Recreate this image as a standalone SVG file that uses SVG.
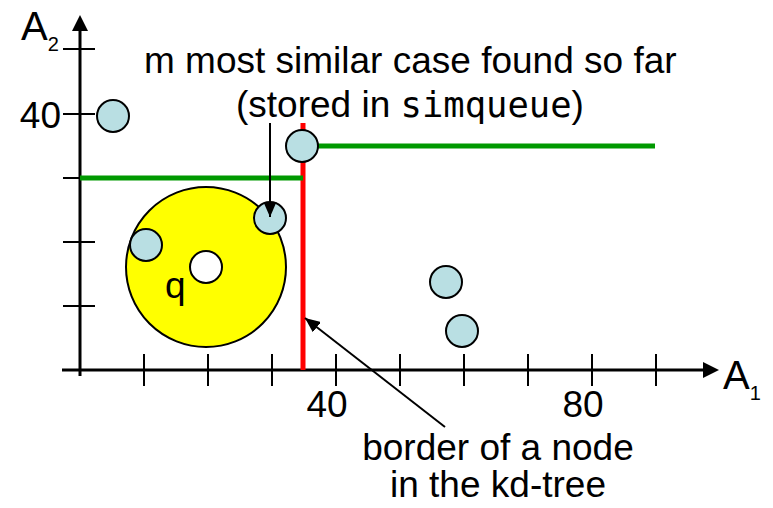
<svg xmlns="http://www.w3.org/2000/svg" width="773" height="508" viewBox="0 0 773 508">
<defs>
<marker id="ah" viewBox="0 0 15 13" refX="15" refY="6.5" markerWidth="15" markerHeight="13" markerUnits="userSpaceOnUse" orient="auto"><path d="M0,0 L15,6.5 L0,13 z" fill="#000"/></marker>
<style>
.t{font-family:"Liberation Sans",Arial,sans-serif;font-size:37px;fill:#000}
.m{font-family:"DejaVu Sans Mono","Liberation Mono",monospace;font-size:35.5px}
.ax{stroke:#000;stroke-width:3;fill:none}
.tk{stroke:#000;stroke-width:2}
.pt{fill:#b9dfe3;stroke:#000;stroke-width:2}
.cn{stroke:#000;stroke-width:2;fill:none}
</style>
</defs>
<rect width="773" height="508" fill="#fff"/>
<g id="axes">
<line class="ax" x1="80" y1="376" x2="80" y2="30"/>
<path d="M80,15 L72,31 L88,31 z" fill="#000"/>
<line class="ax" x1="62" y1="370" x2="705" y2="370"/>
<path d="M719,370 L703,362 L703,378 z" fill="#000"/>
<g class="tk">
<line x1="63" y1="49" x2="95" y2="49"/>
<line x1="63" y1="114" x2="95" y2="114"/>
<line x1="63" y1="178" x2="95" y2="178"/>
<line x1="63" y1="242" x2="95" y2="242"/>
<line x1="63" y1="306" x2="95" y2="306"/>
<line x1="144" y1="354" x2="144" y2="386"/>
<line x1="208" y1="354" x2="208" y2="386"/>
<line x1="272" y1="354" x2="272" y2="386"/>
<line x1="336" y1="354" x2="336" y2="386"/>
<line x1="400" y1="354" x2="400" y2="386"/>
<line x1="464" y1="354" x2="464" y2="386"/>
<line x1="528" y1="354" x2="528" y2="386"/>
<line x1="592" y1="354" x2="592" y2="386"/>
<line x1="656" y1="354" x2="656" y2="386"/>
</g>
<text class="t" x="21" y="40" style="font-size:40px">A<tspan style="font-size:20px" dy="11">2</tspan></text>
<text class="t" x="723" y="389" style="font-size:40px">A<tspan style="font-size:20px" dy="11">1</tspan></text>
<text class="t" x="61" y="128" text-anchor="end">40</text>
<text class="t" x="327" y="417" text-anchor="middle">40</text>
<text class="t" x="583" y="417" text-anchor="middle">80</text>
</g>
<g id="borders">
<line x1="303" y1="123" x2="303" y2="370" stroke="#ff0000" stroke-width="5"/>
<line x1="80" y1="178" x2="303" y2="178" stroke="#009900" stroke-width="5"/>
<line x1="303" y1="146" x2="655" y2="146" stroke="#009900" stroke-width="5"/>
</g>
<g id="query">
<circle cx="206" cy="267" r="80" fill="#ffff00" stroke="#000" stroke-width="2"/>
<circle cx="206" cy="267" r="16" fill="#fff" stroke="#000" stroke-width="2"/>
<text class="t" x="165" y="298">q</text>
</g>
<g id="cases">
<circle class="pt" cx="113" cy="116" r="16"/>
<circle class="pt" cx="302" cy="146" r="16"/>
<circle class="pt" cx="270" cy="218" r="16"/>
<circle class="pt" cx="146" cy="245" r="16"/>
<circle class="pt" cx="446" cy="282" r="16"/>
<circle class="pt" cx="462" cy="331" r="16"/>
</g>
<g id="connectors">
<line class="cn" x1="270" y1="123" x2="270" y2="217" marker-end="url(#ah)"/>
<line class="cn" x1="445" y1="427" x2="305" y2="318" marker-end="url(#ah)"/>
</g>
<g id="label-simqueue">
<text class="t" x="144" y="73">m most similar case found so far</text>
<text class="t" x="236" y="117">(stored in <tspan class="m">simqueue</tspan>)</text>
</g>
<g id="label-border">
<text class="t" x="498" y="460" text-anchor="middle">border of a node</text>
<text class="t" x="498" y="497" text-anchor="middle">in the kd-tree</text>
</g>
</svg>
